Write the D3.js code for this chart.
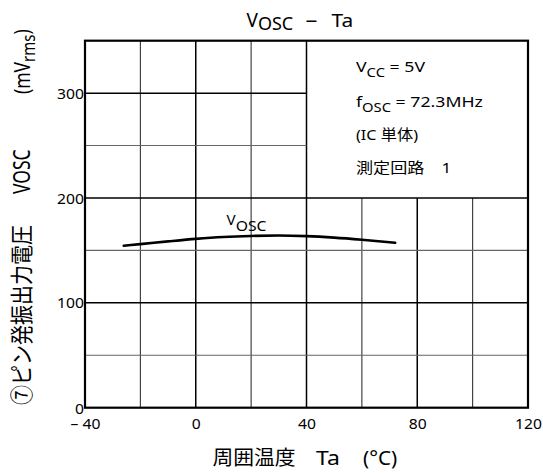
<!DOCTYPE html>
<html><head><meta charset="utf-8">
<script src="https://cdn.jsdelivr.net/npm/d3@7"></script>
<style>
html,body{margin:0;padding:0;background:#fff;}
text{font-family:"Noto Sans","Noto Sans CJK JP",sans-serif;fill:#000;}
</style></head>
<body>
<svg id="c" width="543" height="473"></svg>
<script>
// ---- data ----
const temps = [-26, -20, -10, 0, 10, 20, 30, 40, 50, 60, 72];
const vosc  = [154.5, 156, 158.6, 161, 162.8, 163.8, 164.2, 163.6, 162.2, 160.2, 157.3];
const xTicks = [-40, 0, 40, 80, 120];
const yTicks = [0, 100, 200, 300];
const xGrid = [-20, 0, 20, 40, 60, 80, 100];
const yGrid = [50, 100, 150, 200, 250, 300];
const legendLines = ["VCC", "fOSC", "(IC 単体)", "測定回路　1"];

const svg = d3.select("#c");
const x = d3.scaleLinear().domain([-40, 120]).range([85, 528]);
const y = d3.scaleLinear().domain([0, 350]).range([407.7, 40.7]);

// grid
const g = svg.append("g");
xGrid.forEach(v => {
  const major = (v % 40 === 0);
  g.append("line")
    .attr("x1", x(v)).attr("x2", x(v))
    .attr("y1", y(0)).attr("y2", v > 40 ? y(200) : y(350))
    .attr("stroke", major ? "#000" : "#333")
    .attr("stroke-width", major ? 1.5 : 1.1);
});
yGrid.forEach(v => {
  const major = (v % 100 === 0);
  g.append("line")
    .attr("y1", y(v)).attr("y2", y(v))
    .attr("x1", x(-40)).attr("x2", v > 200 ? x(40) : x(120))
    .attr("stroke", major ? "#000" : "#666")
    .attr("stroke-width", major ? 1.5 : 1.1);
});
// frame
svg.append("rect")
  .attr("x", x(-40)).attr("y", y(350))
  .attr("width", x(120) - x(-40)).attr("height", y(0) - y(350))
  .attr("fill", "none").attr("stroke", "#000").attr("stroke-width", 2.2);

// axes labels
const xAxis = d3.axisBottom(x).tickValues(xTicks).tickSize(0).tickPadding(0)
  .tickFormat(d => d < 0 ? "–\u00a0" + Math.abs(d) : String(d));
const xa = svg.append("g").attr("transform", `translate(0,${y(0) + 11})`).call(xAxis);
xa.select(".domain").remove();
xa.selectAll("text").attr("font-size", 14).attr("font-family", '"Noto Sans",sans-serif')
  .attr("dy", "0.71em").attr("fill", "#000").attr("transform", "scale(1.12,1)");

const yAxis = d3.axisLeft(y).tickValues(yTicks).tickSize(0).tickPadding(1);
const ya = svg.append("g").attr("transform", `translate(${x(-40)},0)`).call(yAxis);
ya.select(".domain").remove();
ya.selectAll("text").attr("font-size", 14).attr("font-family", '"Noto Sans",sans-serif').attr("fill", "#000")
  .attr("dy", d => d === 0 ? "0.42em" : "0.36em").attr("transform", "scale(1.12,1)");

// curve
const line = d3.line().x((d, i) => x(temps[i])).y(d => y(d)).curve(d3.curveMonotoneX);
svg.append("path").datum(vosc).attr("d", line)
  .attr("fill", "none").attr("stroke", "#000").attr("stroke-width", 2.6).attr("stroke-linecap", "round");

// helper: horizontally scaled text placed at (px,py)
function stext(px, py, size, sx) {
  return svg.append("g").attr("transform", `translate(${px},${py}) scale(${sx},1)`)
    .append("text").attr("x", 0).attr("y", 0).attr("font-size", size);
}

// curve label
const cl = stext(226.5, 225, 14.5, 1.05);
cl.append("tspan").text("V");
cl.append("tspan").attr("dy", 5.5).attr("font-size", 15).text("OSC");

// title
const t1 = stext(246.5, 26.7, 19, 1);
t1.append("tspan").text("V");
t1.append("tspan").attr("dy", 3.3).attr("font-size", 18).text("OSC");
stext(305.5, 26.7, 19, 1.25).text("–");
stext(331.5, 26.7, 19, 1.1).text("Ta");

// legend block
const lx = 356, lsx = 1.18;
const l1 = stext(lx, 72, 15, lsx);
l1.append("tspan").text(legendLines[0][0]);
l1.append("tspan").attr("dy", 5).attr("font-size", 12.5).text(legendLines[0].slice(1));
l1.append("tspan").attr("dy", -5).text("\u00a0=\u00a05V");
const l2 = stext(lx, 106.5, 15, lsx);
l2.append("tspan").text(legendLines[1][0]);
l2.append("tspan").attr("dy", 5).attr("font-size", 12.5).text(legendLines[1].slice(1));
l2.append("tspan").attr("dy", -5).text("\u00a0=\u00a072.3MHz");
stext(lx, 140, 14.5, 1.12).text(legendLines[2]);
stext(lx, 172.5, 14.5, 1.18).text(legendLines[3]);

// x title
stext(212.5, 465, 20, 1.04).text("周囲温度");
stext(316, 465, 20, 1.15).text("Ta");
stext(363, 465, 20, 1.03).text("(°C)");

// y title (rotated pieces)
function vtext(px, py, size, sy) {
  return svg.append("g").attr("transform", `translate(${px},${py}) rotate(-90) scale(1,${sy})`)
    .append("text").attr("font-size", size);
}
vtext(29.5, 405, 20, 1.15).text("⑦ピン発振出力電圧");
vtext(30, 194, 17.5, 1.3).text("VOSC");
const yu = vtext(30, 94, 17.5, 1.25);
yu.append("tspan").text("(mV");
yu.append("tspan").attr("dy", 4).attr("font-size", 15).text("rms");
yu.append("tspan").attr("dy", -4).text(")");
</script>
</body></html>
